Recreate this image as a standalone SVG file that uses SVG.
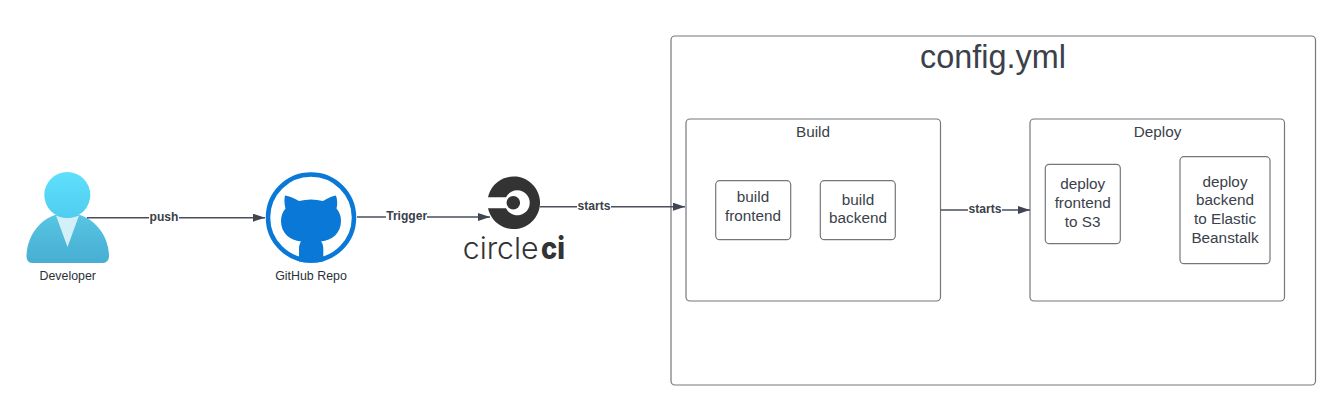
<svg xmlns="http://www.w3.org/2000/svg" width="1327" height="401" viewBox="0 0 1327 401">
<style>
text{font-family:"Liberation Sans",Arial,sans-serif;fill:#3a414a;text-anchor:middle}
.box{fill:#fff;stroke:#74777c;stroke-width:1.2}
.t{font-size:15.3px}
.n{font-size:12.4px;fill:#2b3038}
.e{fill:none;stroke:#4a4f5a;stroke-width:1.4}
.l{font-size:12.1px;font-weight:bold}
.lb{fill:#fff}
.logo{font-family:Inter,"Liberation Sans",sans-serif;font-size:30px;fill:#333;text-anchor:start}
</style>
<defs>
<marker id="a" markerUnits="userSpaceOnUse" markerWidth="13" markerHeight="10" refX="12" refY="4" orient="auto"><path d="M0 0L12 4L0 8Z" fill="#3f4552"/></marker>
<linearGradient id="head" x1="0" y1="0" x2="0" y2="1"><stop offset="0" stop-color="#5ee0fb"/><stop offset="1" stop-color="#4fcdf0"/></linearGradient>
<linearGradient id="body" x1="0" y1="0" x2="0" y2="1"><stop offset="0" stop-color="#58c6e4"/><stop offset="1" stop-color="#47aed2"/></linearGradient>
</defs>
<rect width="1327" height="401" fill="#fff"/>
<g id="config"><rect class="box" x="671" y="36" width="644.500" height="349" rx="4"/><text x="993" y="68" font-size="32.400px">config.yml</text></g>
<g id="build"><rect class="box" x="686" y="119" width="254.500" height="182" rx="4"/><text class="t" x="813" y="137.300">Build</text></g>
<g id="deploy"><rect class="box" x="1030" y="119" width="254.500" height="182" rx="4"/><text class="t" x="1157.500" y="137.300">Deploy</text></g>
<g id="build-frontend"><rect class="box" x="715.700" y="180.700" width="75" height="59" rx="4"/><text class="t" x="753" y="202.300">build</text><text class="t" x="753" y="220.700">frontend</text></g>
<g id="build-backend"><rect class="box" x="820.300" y="180.700" width="75" height="59" rx="4"/><text class="t" x="858" y="205">build</text><text class="t" x="858" y="223.300">backend</text></g>
<g id="deploy-frontend"><rect class="box" x="1045.300" y="164.300" width="75" height="79.400" rx="4"/><text class="t" x="1082.700" y="189.300">deploy</text><text class="t" x="1082.700" y="208">frontend</text><text class="t" x="1082.700" y="226.700">to S3</text></g>
<g id="deploy-backend"><rect class="box" x="1180" y="156.700" width="90" height="107" rx="4"/><text class="t" x="1225" y="186.700">deploy</text><text class="t" x="1225" y="205.300">backend</text><text class="t" x="1225" y="224">to Elastic</text><text class="t" x="1225" y="242.700">Beanstalk</text></g>
<g id="developer">
<path d="M26.500 256C27 233 44 213 67.500 213C91 213 108.500 233 109 256C109 260 106.500 263 103 263H32C28.500 263 26.500 260 26.500 256Z" fill="url(#body)"/>
<path d="M56 215.500Q67.500 220 79 215.500L67.500 247Z" fill="#d3f0f8"/>
<circle cx="67.300" cy="195" r="23" fill="url(#head)"/>
<text class="n" x="67.700" y="280">Developer</text>
</g>
<g id="github">
<circle cx="311" cy="217.500" r="43" fill="#fff" stroke="#0a78d7" stroke-width="4.500"/>
<path d="M285 195.500C289 196 295 198.500 299 201C307 199 315 199 323 201C327 198.500 332 196 336 195.500C337.500 200 337.500 205 336.500 208.500C339.500 212 341 216 341 221C341 233 332 240.500 321 241.500C322.800 243.500 323.300 246 323.300 249V261.500C315 263.200 307 263.200 299 261.500V249C299 246 299.700 243.500 301 241.500C290 240.500 281 233 281 221C281 216 282.500 212 285.500 208.500C284.500 205 284 200 285 195.500Z" fill="#0a78d7"/>
<text class="n" x="311" y="280">GitHub Repo</text>
</g>
<g id="circleci">
<path fill-rule="evenodd" d="M488 197.300A26.300 26.300 0 1 1 488 208.200H506A12.500 12.500 0 1 0 506 197.300Z" fill="#333"/>
<circle cx="513.300" cy="202.700" r="6.800" fill="#333"/>
<text class="logo" x="462.700" y="259.300" font-weight="300" textLength="76" lengthAdjust="spacingAndGlyphs">circle</text>
<text class="logo" x="541" y="259.300" font-weight="800" textLength="24" lengthAdjust="spacingAndGlyphs">ci</text>
</g>
<g id="connectors">
<path class="e" d="M87 217.700H265" marker-end="url(#a)"/>
<path class="e" d="M357 217H490" marker-end="url(#a)"/>
<path class="e" d="M540 206.700H685" marker-end="url(#a)"/>
<path class="e" d="M940.500 210H1030" marker-end="url(#a)"/>
<rect class="lb" x="149" y="210" width="30" height="14"/><text class="l" x="164" y="220.500">push</text>
<rect class="lb" x="386" y="209" width="41" height="14"/><text class="l" x="406.700" y="220">Trigger</text>
<rect class="lb" x="577" y="199" width="34" height="14"/><text class="l" x="594" y="209.700">starts</text>
<rect class="lb" x="968" y="203" width="34" height="14"/><text class="l" x="985" y="212.800">starts</text>
</g>
</svg>
